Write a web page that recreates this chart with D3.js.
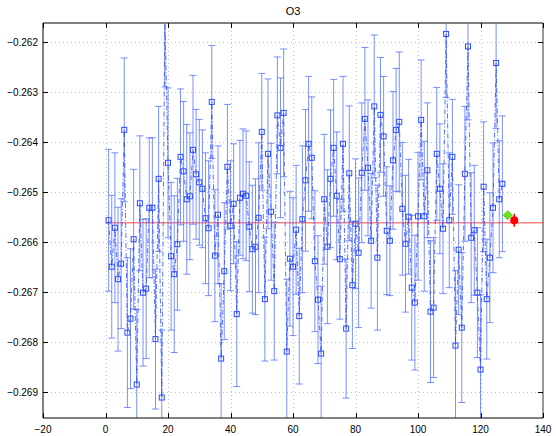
<!DOCTYPE html>
<html>
<head>
<meta charset="utf-8">
<script src="https://cdn.jsdelivr.net/npm/d3@7"></script>
<style>
  body { margin: 0; background: #fff; }
  svg { display: block; font-family: "Liberation Sans", Arial, sans-serif; }
</style>
</head>
<body>
<svg id="chart" width="556" height="436"></svg>
<script>
const width = 556;
const height = 436;

// measured values (run index 1..127), in absolute units
const obsValues = [
  -0.26556, -0.26649, -0.26571, -0.26674, -0.26643, -0.26375, -0.26781, -0.26753, -0.26594, -0.26885,
  -0.26522, -0.26701, -0.26693, -0.26531, -0.26531, -0.26794, -0.26473, -0.26911, -0.26147, -0.26441,
  -0.26628, -0.26664, -0.26604, -0.26429, -0.26458, -0.26514, -0.26508, -0.26415, -0.26464, -0.26480,
  -0.26493, -0.26552, -0.26572, -0.26319, -0.26627, -0.26545, -0.26833, -0.26658, -0.26449, -0.26567,
  -0.26523, -0.26744, -0.26511, -0.26503, -0.26507, -0.26569, -0.26614, -0.26609, -0.26551, -0.26379,
  -0.26714, -0.26423, -0.26539, -0.26698, -0.26346, -0.26411, -0.26341, -0.26819, -0.26633, -0.26649,
  -0.26575, -0.26748, -0.26554, -0.26476, -0.26403, -0.26431, -0.26638, -0.26715, -0.26823, -0.26514,
  -0.26609, -0.26473, -0.26411, -0.26507, -0.26634, -0.26403, -0.26773, -0.26462, -0.26686, -0.26563,
  -0.26621, -0.26461, -0.26353, -0.26451, -0.26597, -0.26328, -0.26631, -0.26345, -0.26388, -0.26577,
  -0.26597, -0.26436, -0.26375, -0.26359, -0.26533, -0.26603, -0.26549, -0.26691, -0.26721, -0.26548,
  -0.26355, -0.26548, -0.26456, -0.26739, -0.26731, -0.26423, -0.26493, -0.26573, -0.26183, -0.26556,
  -0.26429, -0.26807, -0.26615, -0.26771, -0.26463, -0.26208, -0.26591, -0.26576, -0.26701, -0.26855,
  -0.26489, -0.26714, -0.26631, -0.26531, -0.26241, -0.26514, -0.26483
];

// half error bar lengths (same order)
const obsErrors = [
  0.00142, 0.00143, 0.00150, 0.00144, 0.00130, 0.00144, 0.00150, 0.00140, 0.00140, 0.00150,
  0.00135, 0.00147, 0.00140, 0.00140, 0.00140, 0.00140, 0.00145, 0.00135, 0.00142, 0.00150,
  0.00148, 0.00157, 0.00132, 0.00136, 0.00140, 0.00150, 0.00127, 0.00149, 0.00130, 0.00126,
  0.00118, 0.00131, 0.00135, 0.00113, 0.00132, 0.00138, 0.00150, 0.00137, 0.00125, 0.00130,
  0.00120, 0.00145, 0.00115, 0.00130, 0.00130, 0.00130, 0.00128, 0.00136, 0.00150, 0.00117,
  0.00124, 0.00150, 0.00137, 0.00138, 0.00117, 0.00140, 0.00128, 0.00145, 0.00135, 0.00138,
  0.00129, 0.00136, 0.00147, 0.00142, 0.00135, 0.00122, 0.00141, 0.00128, 0.00135, 0.00130,
  0.00154, 0.00138, 0.00137, 0.00128, 0.00120, 0.00135, 0.00139, 0.00135, 0.00127, 0.00130,
  0.00150, 0.00140, 0.00143, 0.00136, 0.00135, 0.00143, 0.00145, 0.00115, 0.00120, 0.00128,
  0.00110, 0.00138, 0.00123, 0.00140, 0.00133, 0.00137, 0.00115, 0.00145, 0.00135, 0.00128,
  0.00120, 0.00150, 0.00135, 0.00142, 0.00140, 0.00133, 0.00130, 0.00130, 0.00127, 0.00135,
  0.00115, 0.00150, 0.00130, 0.00150, 0.00135, 0.00147, 0.00130, 0.00130, 0.00130, 0.00150,
  0.00130, 0.00120, 0.00130, 0.00130, 0.00131, 0.00117, 0.00136
];

const meanValue = -0.26561;          // red reference line
const greenPoint = { x: 128.7, y: -0.26546 };
const redPoint = { x: 130.8, y: -0.26556, err: 0.00013 };

const xTicks = [-20, 0, 20, 40, 60, 80, 100, 120, 140];
const yTicks = [-0.262, -0.263, -0.264, -0.265, -0.266, -0.267, -0.268, -0.269];

const margin = { left: 43, right: 13, top: 23, bottom: 18 };
const plotW = width - margin.left - margin.right;
const plotH = height - margin.top - margin.bottom;

const x = d3.scaleLinear().domain([-20, 140]).range([0, plotW]);
const y = d3.scaleLinear().domain([-0.26952, -0.26161]).range([plotH, 0]);

const points = obsValues.map((v, i) => ({ x: i + 1, y: v, e: obsErrors[i] }));

const svg = d3.select("#chart");
const g = svg.append("g").attr("transform", `translate(${margin.left},${margin.top})`);

g.append("clipPath").attr("id", "clip")
  .append("rect").attr("width", plotW).attr("height", plotH);

// grid
const grid = g.append("g")
  .attr("stroke", "#b0b0b0")
  .attr("stroke-width", 0.8)
  .attr("stroke-dasharray", "1,3");
grid.selectAll(".gx").data(xTicks.slice(1, -1)).join("line")
  .attr("x1", (d) => Math.round(x(d)) + 0.5).attr("x2", (d) => Math.round(x(d)) + 0.5)
  .attr("y1", 0).attr("y2", plotH);
grid.selectAll(".gy").data(yTicks).join("line")
  .attr("x1", 0).attr("x2", plotW)
  .attr("y1", (d) => Math.round(y(d)) + 0.5).attr("y2", (d) => Math.round(y(d)) + 0.5);

const plot = g.append("g").attr("clip-path", "url(#clip)");

// red mean line
plot.append("line")
  .attr("x1", x(0)).attr("x2", x(140))
  .attr("y1", y(meanValue)).attr("y2", y(meanValue))
  .attr("stroke", "#ff3030")
  .attr("stroke-opacity", 0.6)
  .attr("stroke-width", 1.6);

// error bars
const bars = plot.append("g")
  .attr("stroke", "#4d6bff")
  .attr("stroke-opacity", 0.75)
  .attr("stroke-width", 1);
const capW = 3.5;
bars.selectAll("line.v").data(points).join("line")
  .attr("x1", (d) => x(d.x)).attr("x2", (d) => x(d.x))
  .attr("y1", (d) => y(d.y + d.e)).attr("y2", (d) => y(d.y - d.e));
bars.selectAll("line.t").data(points).join("line")
  .attr("x1", (d) => x(d.x) - capW).attr("x2", (d) => x(d.x) + capW)
  .attr("y1", (d) => y(d.y + d.e)).attr("y2", (d) => y(d.y + d.e));
bars.selectAll("line.b").data(points).join("line")
  .attr("x1", (d) => x(d.x) - capW).attr("x2", (d) => x(d.x) + capW)
  .attr("y1", (d) => y(d.y - d.e)).attr("y2", (d) => y(d.y - d.e));

// dash-dot connecting line
const line = d3.line().x((d) => x(d.x)).y((d) => y(d.y));
plot.append("path")
  .datum(points)
  .attr("d", line)
  .attr("fill", "none")
  .attr("stroke", "#2a4cff")
  .attr("stroke-opacity", 0.8)
  .attr("stroke-width", 1)
  .attr("stroke-dasharray", "5,2,1,2");

// square markers
plot.append("g").selectAll("rect").data(points).join("rect")
  .attr("x", (d) => x(d.x) - 2.5)
  .attr("y", (d) => y(d.y) - 2.5)
  .attr("width", 5).attr("height", 5)
  .attr("fill", "none")
  .attr("stroke", "#2a4cff")
  .attr("stroke-width", 1);

// green diamond
plot.append("path")
  .attr("d", d3.symbol().type(d3.symbolDiamond2).size(50)())
  .attr("transform", `translate(${x(greenPoint.x)},${y(greenPoint.y)})`)
  .attr("fill", "#66e61a")
  .attr("stroke", "#55cc11");

// red point with small error bar
plot.append("line")
  .attr("x1", x(redPoint.x)).attr("x2", x(redPoint.x))
  .attr("y1", y(redPoint.y + redPoint.err)).attr("y2", y(redPoint.y - redPoint.err))
  .attr("stroke", "red").attr("stroke-width", 1.5);
plot.append("circle")
  .attr("cx", x(redPoint.x)).attr("cy", y(redPoint.y))
  .attr("r", 4)
  .attr("fill", "red");

// box: grey thick top edge, dark right edge, black left/bottom
const box = g.append("g");
box.append("line").attr("x1", 0).attr("x2", plotW).attr("y1", 0).attr("y2", 0)
  .attr("stroke", "#808080").attr("stroke-width", 2);
box.append("line").attr("x1", plotW).attr("x2", plotW).attr("y1", 0).attr("y2", plotH)
  .attr("stroke", "#333").attr("stroke-width", 1);
box.append("line").attr("x1", 0).attr("x2", 0).attr("y1", 0).attr("y2", plotH)
  .attr("stroke", "#000").attr("stroke-width", 1);
box.append("line").attr("x1", 0).attr("x2", plotW).attr("y1", plotH).attr("y2", plotH)
  .attr("stroke", "#000").attr("stroke-width", 1);

const tickLen = 5;
const ticks = g.append("g").attr("stroke", "#000").attr("stroke-width", 1);
xTicks.forEach((t) => {
  const px = Math.round(x(t)) + 0.5;
  ticks.append("line").attr("x1", px).attr("x2", px).attr("y1", plotH).attr("y2", plotH - tickLen);
  ticks.append("line").attr("x1", px).attr("x2", px).attr("y1", 0).attr("y2", tickLen);
});
yTicks.forEach((t) => {
  const py = Math.round(y(t)) + 0.5;
  ticks.append("line").attr("x1", 0).attr("x2", tickLen).attr("y1", py).attr("y2", py);
  ticks.append("line").attr("x1", plotW).attr("x2", plotW - tickLen).attr("y1", py).attr("y2", py);
});

// tick labels
g.append("g").selectAll("text").data(xTicks).join("text")
  .attr("x", (d) => x(d))
  .attr("y", plotH + 15)
  .attr("text-anchor", "middle")
  .attr("font-size", 10)
  .text((d) => (d < 0 ? "\u2212" + Math.abs(d) : d));

g.append("g").selectAll("text").data(yTicks).join("text")
  .attr("x", -5)
  .attr("y", (d) => y(d) + 3.5)
  .attr("text-anchor", "end")
  .attr("font-size", 10)
  .text((d) => "\u2212" + Math.abs(d).toFixed(3));

// title
svg.append("text")
  .attr("x", margin.left + plotW / 2)
  .attr("y", 15)
  .attr("text-anchor", "middle")
  .attr("font-size", 11)
  .text("O3");
</script>
</body>
</html>
